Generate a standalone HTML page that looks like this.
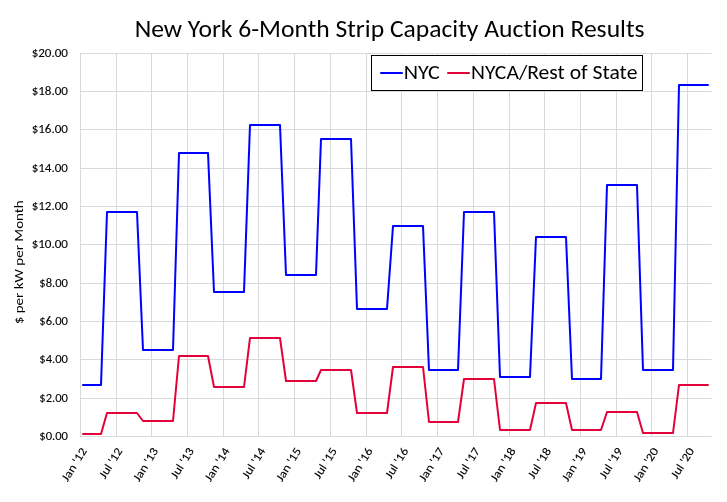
<!DOCTYPE html>
<html><head><meta charset="utf-8"><style>
html,body{margin:0;padding:0;background:#fff;}
svg{display:block;}
text{font-family:Carlito, 'Liberation Sans', sans-serif;fill:#000;font-size-adjust:cap-height 0.6318;font-variant-ligatures:none;font-feature-settings:"liga" 0,"clig" 0;}
</style></head><body>
<svg width="727" height="502" viewBox="0 0 727 502">
<rect width="727" height="502" fill="#fff"/>
<text x="389.6" y="36.6" text-anchor="middle" font-size="24" textLength="509.9" lengthAdjust="spacingAndGlyphs">New York 6-Month Strip Capacity Auction Results</text>
<g fill="#d9d9d9" shape-rendering="crispEdges">
<rect x="80" y="53" width="631" height="1"/><rect x="711" y="53" width="1" height="1" fill="#ececec"/>
<rect x="80" y="91" width="631" height="1"/><rect x="711" y="91" width="1" height="1" fill="#ececec"/>
<rect x="80" y="129" width="631" height="1"/><rect x="711" y="129" width="1" height="1" fill="#ececec"/>
<rect x="80" y="168" width="631" height="1"/><rect x="711" y="168" width="1" height="1" fill="#ececec"/>
<rect x="80" y="206" width="631" height="1"/><rect x="711" y="206" width="1" height="1" fill="#ececec"/>
<rect x="80" y="244" width="631" height="1"/><rect x="711" y="244" width="1" height="1" fill="#ececec"/>
<rect x="80" y="283" width="631" height="1"/><rect x="711" y="283" width="1" height="1" fill="#ececec"/>
<rect x="80" y="321" width="631" height="1"/><rect x="711" y="321" width="1" height="1" fill="#ececec"/>
<rect x="80" y="359" width="631" height="1"/><rect x="711" y="359" width="1" height="1" fill="#ececec"/>
<rect x="80" y="398" width="631" height="1"/><rect x="711" y="398" width="1" height="1" fill="#ececec"/>
<rect x="80" y="436" width="631" height="1"/><rect x="711" y="436" width="1" height="1" fill="#ececec"/>
<rect x="80" y="53" width="1" height="384"/>
<rect x="116" y="53" width="1" height="384"/>
<rect x="151" y="53" width="1" height="384"/>
<rect x="187" y="53" width="1" height="384"/>
<rect x="223" y="53" width="1" height="384"/>
<rect x="258" y="53" width="1" height="384"/>
<rect x="294" y="53" width="1" height="384"/>
<rect x="330" y="53" width="1" height="384"/>
<rect x="366" y="53" width="1" height="384"/>
<rect x="401" y="53" width="1" height="384"/>
<rect x="437" y="53" width="1" height="384"/>
<rect x="473" y="53" width="1" height="384"/>
<rect x="509" y="53" width="1" height="384"/>
<rect x="544" y="53" width="1" height="384"/>
<rect x="580" y="53" width="1" height="384"/>
<rect x="616" y="53" width="1" height="384"/>
<rect x="651" y="53" width="1" height="384"/>
<rect x="687" y="53" width="1" height="384"/>
</g>
<g font-size="12.4" stroke="#000" stroke-width="0.1">
<text x="68" y="56.90" text-anchor="end" textLength="36.35" lengthAdjust="spacingAndGlyphs">$20.00</text>
<text x="68" y="94.90" text-anchor="end" textLength="36.35" lengthAdjust="spacingAndGlyphs">$18.00</text>
<text x="68" y="132.90" text-anchor="end" textLength="36.35" lengthAdjust="spacingAndGlyphs">$16.00</text>
<text x="68" y="171.90" text-anchor="end" textLength="36.35" lengthAdjust="spacingAndGlyphs">$14.00</text>
<text x="68" y="209.90" text-anchor="end" textLength="36.35" lengthAdjust="spacingAndGlyphs">$12.00</text>
<text x="68" y="247.90" text-anchor="end" textLength="36.35" lengthAdjust="spacingAndGlyphs">$10.00</text>
<text x="68" y="286.90" text-anchor="end" textLength="28.7" lengthAdjust="spacingAndGlyphs">$8.00</text>
<text x="68" y="324.90" text-anchor="end" textLength="28.7" lengthAdjust="spacingAndGlyphs">$6.00</text>
<text x="68" y="362.90" text-anchor="end" textLength="28.7" lengthAdjust="spacingAndGlyphs">$4.00</text>
<text x="68" y="401.90" text-anchor="end" textLength="28.7" lengthAdjust="spacingAndGlyphs">$2.00</text>
<text x="68" y="439.90" text-anchor="end" textLength="28.7" lengthAdjust="spacingAndGlyphs">$0.00</text>
</g>
<g font-size="12" stroke="#000" stroke-width="0.12">
<text transform="translate(87.22,450.8) rotate(-58)" text-anchor="end" textLength="37.1" lengthAdjust="spacingAndGlyphs">Jan &#39;12</text>
<text transform="translate(122.95,450.8) rotate(-58)" text-anchor="end" textLength="33.8" lengthAdjust="spacingAndGlyphs">Jul &#39;12</text>
<text transform="translate(158.68,450.8) rotate(-58)" text-anchor="end" textLength="37.1" lengthAdjust="spacingAndGlyphs">Jan &#39;13</text>
<text transform="translate(194.41,450.8) rotate(-58)" text-anchor="end" textLength="33.8" lengthAdjust="spacingAndGlyphs">Jul &#39;13</text>
<text transform="translate(230.14,450.8) rotate(-58)" text-anchor="end" textLength="37.1" lengthAdjust="spacingAndGlyphs">Jan &#39;14</text>
<text transform="translate(265.87,450.8) rotate(-58)" text-anchor="end" textLength="33.8" lengthAdjust="spacingAndGlyphs">Jul &#39;14</text>
<text transform="translate(301.60,450.8) rotate(-58)" text-anchor="end" textLength="37.1" lengthAdjust="spacingAndGlyphs">Jan &#39;15</text>
<text transform="translate(337.33,450.8) rotate(-58)" text-anchor="end" textLength="33.8" lengthAdjust="spacingAndGlyphs">Jul &#39;15</text>
<text transform="translate(373.06,450.8) rotate(-58)" text-anchor="end" textLength="37.1" lengthAdjust="spacingAndGlyphs">Jan &#39;16</text>
<text transform="translate(408.79,450.8) rotate(-58)" text-anchor="end" textLength="33.8" lengthAdjust="spacingAndGlyphs">Jul &#39;16</text>
<text transform="translate(444.52,450.8) rotate(-58)" text-anchor="end" textLength="37.1" lengthAdjust="spacingAndGlyphs">Jan &#39;17</text>
<text transform="translate(480.25,450.8) rotate(-58)" text-anchor="end" textLength="33.8" lengthAdjust="spacingAndGlyphs">Jul &#39;17</text>
<text transform="translate(515.98,450.8) rotate(-58)" text-anchor="end" textLength="37.1" lengthAdjust="spacingAndGlyphs">Jan &#39;18</text>
<text transform="translate(551.71,450.8) rotate(-58)" text-anchor="end" textLength="33.8" lengthAdjust="spacingAndGlyphs">Jul &#39;18</text>
<text transform="translate(587.44,450.8) rotate(-58)" text-anchor="end" textLength="37.1" lengthAdjust="spacingAndGlyphs">Jan &#39;19</text>
<text transform="translate(623.17,450.8) rotate(-58)" text-anchor="end" textLength="33.8" lengthAdjust="spacingAndGlyphs">Jul &#39;19</text>
<text transform="translate(658.90,450.8) rotate(-58)" text-anchor="end" textLength="37.1" lengthAdjust="spacingAndGlyphs">Jan &#39;20</text>
<text transform="translate(694.63,450.8) rotate(-58)" text-anchor="end" textLength="33.8" lengthAdjust="spacingAndGlyphs">Jul &#39;20</text>
</g>
<text transform="translate(22.7,262.3) rotate(-90)" text-anchor="middle" font-size="13.33" textLength="124.0" lengthAdjust="spacingAndGlyphs">$ per kW per Month</text>
<g fill="none" stroke-width="2" stroke-linejoin="round" stroke-linecap="round">
<polyline stroke="#e4003a" points="83,434 101,434 107,413 137,413 143,421 173,421 179,356 208,356 214,387 244,387 250,338 280,338 286,381 316,381 321,370 351,370 357,413 387,413 393,367 423,367 429,422 458,422 464,379 494,379 500,430 530,430 536,403 566,403 572,430 601,430 607,412 637,412 643,433 673,433 679,385 708,385"/>
<polyline stroke="#0000ff" points="83,385 101,385 107,212 137,212 143,350 173,350 179,153 208,153 214,292 244,292 250,125 280,125 286,275 316,275 321,139 351,139 357,309 387,309 393,226 423,226 429,370 458,370 464,212 494,212 500,377 530,377 536,237 566,237 572,379 601,379 607,185 637,185 643,370 673,370 679,85 708,85"/>
</g>
<rect x="371.5" y="55.5" width="271" height="35" fill="#fff" stroke="#000" stroke-width="1"/>
<line x1="381" y1="73" x2="402" y2="73" stroke="#0000ff" stroke-width="2" stroke-linecap="round"/>
<text x="403.7" y="78.9" font-size="21.33" textLength="36.24" lengthAdjust="spacingAndGlyphs">NYC</text>
<line x1="448" y1="73" x2="469" y2="73" stroke="#e4003a" stroke-width="2" stroke-linecap="round"/>
<text x="471.1" y="78.9" font-size="21.33" textLength="166.3" lengthAdjust="spacingAndGlyphs">NYCA/Rest of State</text>
</svg>
</body></html>
